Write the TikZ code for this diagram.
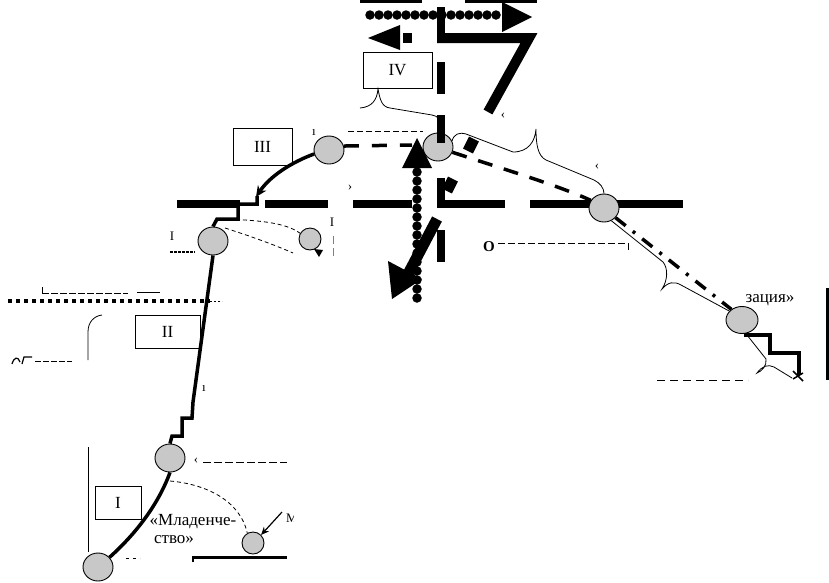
\documentclass[tikz,border=0pt]{standalone}
\usepackage{fontspec}
\setmainfont{Liberation Serif}
\usetikzlibrary{shapes.geometric,arrows.meta}
\definecolor{ballgray}{RGB}{200,200,200}
\begin{document}
\begin{tikzpicture}[x=1pt,y=-1pt,
  ball/.style={ellipse,draw=black,line width=0.9pt,fill=ballgray,minimum width=30pt,minimum height=28pt,inner sep=0pt},
  smallball/.style={ball,minimum width=22pt,minimum height=22pt},
  stagebox/.style={draw,line width=0.8pt,rectangle,inner sep=0pt,font=\fontsize{17}{17}\selectfont},
  bar/.style={line width=8pt},
  growth/.style={line width=3.5pt},
  fine/.style={line width=0.8pt},
  thindash/.style={line width=0.8pt,dash pattern=on 4pt off 3pt},
  bead/.style={circle,fill=black,minimum size=9.5pt,inner sep=0pt},
  lbl/.style={font=\fontsize{17}{17}\selectfont,inner sep=0pt},
  frag/.style={font=\fontsize{13}{13}\selectfont,inner sep=0pt}
]
\useasboundingbox (0,0) rectangle (829,582);

% ---------- background bars ----------
\fill (360,0) rectangle (422,3);
\fill (465,0) rectangle (537,3);
\draw[bar] (177,204) -- (240,204);
\draw[bar] (265,204) -- (328,204);
\draw[bar] (353,204) -- (412,204);
\draw[bar] (441,204) -- (505,204);
\draw[bar] (530,204) -- (683,204);

% ---------- circles ----------
\node[ball] (b1) at (98,567) {};
\node[ball] (b2) at (170,458) {};
\node[smallball] (b3) at (253,543) {};
\node[ball] (b4) at (213,241) {};
\node[smallball] (b5) at (310,239) {};
\node[ball] (b6) at (329,150) {};
\node[ball] (b7) at (438,147) {};
\node[ball] (b8) at (604,208) {};
\node[ball,minimum width=32pt,minimum height=27pt] (b9) at (742,320) {};

% ---------- stage boxes ----------
\node[stagebox,minimum width=46pt,minimum height=33pt] (s1) at (118,502.5) {I};
\node[stagebox,minimum width=65pt,minimum height=33pt] (s2) at (167.5,331.5) {II};
\node[stagebox,minimum width=59pt,minimum height=37pt] (s3) at (262.5,146.5) {III};
\node[stagebox,minimum width=69pt,minimum height=36pt] (s4) at (397.5,70) {IV};

% ---------- growth line ----------
\draw[growth] (b1.40) .. controls (140,530) and (160,500) .. (b2.south);
\draw[growth] (b2.north) -- (172,436) -- (182,436) -- (182,418) -- (192,418) -- (193,402) -- (b4.south);
\draw[growth] (b4.north) -- (217,219) -- (238,219) -- (238,204) -- (257,204) -- (257,196);
\coordinate (t3) at (256,197);
\draw[growth,-{Stealth[length=11pt,width=10pt]}] (b6.195) .. controls (292,162) and (270,176) .. (t3);

% ---------- thick dashed trajectory ----------
\coordinate (up) at (412,145);
\draw[growth,dash pattern=on 15pt off 13pt] (b6.15) -- (up);
\draw[growth,dash pattern=on 15pt off 12pt] (b7.-20) .. controls (500,168) and (560,186) .. (b8.150);
\draw[growth,dash pattern=on 13pt off 9pt on 3pt off 9pt] (b8.-40) -- (b9.135);

% ---------- vertical beaded arrow ----------
\foreach \i in {0,...,14} \node[bead] (vb\i) at (417,{172+9*\i}) {};
\fill (402,168) -- (417,138) -- (432,168) -- cycle;

% ---------- top beaded arrow and "7" ----------
\foreach \i in {0,...,14} \node[bead] (tb\i) at ({370+9*\i},15) {};
\fill (502,2) -- (532,17) -- (502,32) -- cycle;
\draw[line width=8pt] (441,7) -- (441,38);
\draw[line width=10pt,line join=miter] (437,38) -- (529,38) -- (488,112);
\fill (368,38) -- (400,25) -- (400,50) -- cycle;
\fill (403,33) rectangle (412,43);

% diagonal dashes and big arrow
\draw[line width=11pt] (474,139) -- (468,151);
\draw[line width=11pt] (453,179) -- (447,191);
\draw[line width=11pt] (437,219) -- (408,274);
\fill (392,299) -- (388,261) -- (422,279) -- cycle;

% vertical thick dashes x=441
\draw[bar] (441,62) -- (441,94);
\draw[bar] (441,115) -- (441,143);
\draw[bar] (441,178) -- (441,208);
\draw[bar] (441,230) -- (441,262);

% ---------- thin braces ----------
\draw[fine] (360,108) .. controls (372,107) and (377,100) .. (378,89)
  .. controls (380,100) and (382,107) .. (390,108) -- (432,115)
  .. controls (438,116) and (441,120) .. (441,126);
\draw[fine] (452,141) .. controls (454,134) and (459,132) .. (466,134) -- (513,152)
  .. controls (528,152) and (535,142) .. (536,129)
  .. controls (536,145) and (538,156) .. (546,160) -- (594,180)
  .. controls (600,183) and (604,188) .. (b8.north);
\draw[fine] (b8.-60) -- (663,262) .. controls (668,268) and (668,280) .. (662,289)
  .. controls (668,282) and (674,281) .. (681,285) -- (b9.145);
\draw[fine] (747,335) -- (766,359) .. controls (767,366) and (762,371) .. (757,373)
  .. controls (762,366) and (768,364) .. (774,367) -- (792,378);

% ---------- right staircase ----------
\draw[line width=4pt] (744,335) -- (770,335) -- (770,353) -- (799,353) -- (799,375);
\draw[line width=1.5pt] (793,371) -- (803,381) (793,379) -- (803,373);
\draw[line width=3pt] (827,288) -- (827,380);
\draw[thindash,dash pattern=on 8pt off 5pt] (657,380) -- (748,380);
\node[lbl] (zac) at (770,300) {зация»};

% ---------- thin dashed lines ----------
\draw[thindash,dash pattern=on 6pt off 3pt] (348,131) -- (423,131);
\draw[thindash] (222,219) .. controls (255,220) and (285,222) .. (b5.150);
\coordinate (la) at (293,253);
\draw[thindash] (225,228) .. controls (250,236) and (275,245) .. (la);
\fill (314,249) -- (323,250) -- (319,257) -- cycle;
\draw[thindash] (170,481) .. controls (205,484) and (240,500) .. (b3.120);
\node[frag,font=\fontsize{15}{15}\selectfont\bfseries] (ob) at (489,247) {О};
\draw[thindash,dash pattern=on 7pt off 3pt] (498,243) -- (628,243) -- (628,253);

% ---------- left side ----------
\draw[line width=4pt,dash pattern=on 4pt off 4pt] (8,301) -- (210,301);
\draw[line width=0.6pt,dash pattern=on 2pt off 2pt] (210,301) -- (222,301);
\draw[fine,dash pattern=on 7pt off 2pt] (42,293) -- (128,293);
\draw[fine] (42,287) -- (42,294);
\draw[fine] (137,292) -- (160,292);
\draw[fine] (102,315) .. controls (94,316) and (88,322) .. (88,332) -- (88,360);
\draw[fine] (88,447) -- (88,552);
\draw[line width=1.2pt] (12,364) .. controls (14,357) and (18,356) .. (20,362) (22,364) -- (24,357) -- (32,357);
\draw[fine,dash pattern=on 6pt off 2pt] (35,361) -- (72,361);
\draw[line width=2pt,dash pattern=on 3pt off 1pt] (170,252) -- (195,252);
\node[frag] (i1) at (172,236) {I};
\node[frag] (i2) at (332,222) {I};
\draw[line width=0.5pt,gray] (333,236) -- (333,244) (333,248) -- (333,256);
\node[frag] (p1) at (350,188) {›};
\node[frag] (p2) at (503,116) {‹};
\node[frag] (p3) at (597,167) {‹};
\node[frag] (p4) at (314,133) {ı};
\node[frag] (p5) at (204,389) {ı};
\node[frag] (q1) at (196,461) {‹};
\draw[thindash,dash pattern=on 8pt off 3pt] (203,462) -- (287,462);
\draw[fine,dash pattern=on 3pt off 4pt] (126,558) -- (140,558);

% ---------- infancy ----------
\node[lbl] (mlad) at (193,522) {«Младенче-};
\node[lbl] (stvo) at (174,540) {ство»};
\draw[line width=1.2pt,-{Stealth[length=8pt,width=7pt]}] (282,512) -- (b3.45);
\begin{scope}
\clip (283,505) rectangle (293,530);
\node[frag] (mm) at (292,518) {М};
\end{scope}
\draw[line width=3pt] (192,557) -- (287,557);
\draw[line width=2pt] (193,556) -- (193,562);
\end{tikzpicture}
\end{document}
